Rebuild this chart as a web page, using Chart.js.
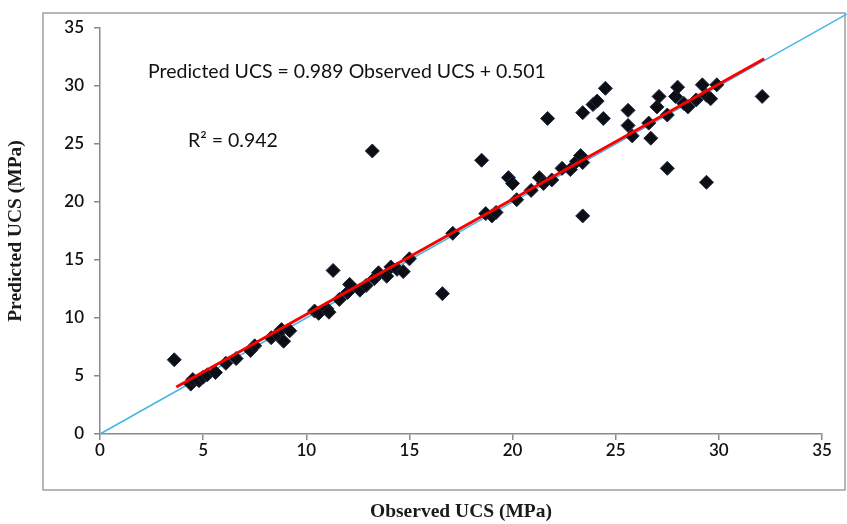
<!DOCTYPE html>
<html>
<head>
<meta charset="utf-8">
<script src="https://cdn.jsdelivr.net/npm/chart.js@4/dist/chart.umd.min.js"></script>
<style>
  html, body { margin: 0; padding: 0; background: #fff; }
  #wrap { width: 847px; height: 524px; }
</style>
</head>
<body>
<div id="wrap"><canvas id="c" width="847" height="524"></canvas></div>
<script>
// observed vs predicted UCS (MPa)
const observed = [
  3.6, 4.4, 4.5, 4.8, 5.0, 5.2, 5.6, 6.1, 6.6, 7.3, 7.5, 8.3, 8.6, 8.8, 8.9, 9.2,
  10.4, 10.6, 11.0, 11.1, 11.3, 11.6, 12.0, 12.1, 12.6, 12.9, 13.2, 13.3, 13.5, 13.9,
  14.1, 14.4, 14.7, 15.0, 16.6, 17.1, 18.5, 18.7, 19.0, 19.2, 19.8, 20.0, 20.2, 20.9,
  21.3, 21.5, 21.7, 21.9, 22.4, 22.8, 23.1, 23.3, 23.4, 23.4, 23.4, 23.9, 24.1, 24.4,
  24.5, 25.6, 25.6, 25.8, 26.6, 26.7, 27.0, 27.1, 27.5, 27.5, 27.9, 28.0, 28.3, 28.5,
  28.9, 29.2, 29.4, 29.4, 29.6, 29.9, 32.1
];
const predicted = [
  6.4, 4.3, 4.7, 4.6, 4.9, 5.1, 5.3, 6.1, 6.5, 7.2, 7.6, 8.3, 8.6, 9.0, 8.0, 8.9,
  10.6, 10.4, 10.8, 10.5, 14.1, 11.6, 12.2, 12.9, 12.4, 12.8, 24.4, 13.4, 13.9, 13.6,
  14.4, 14.2, 14.0, 15.1, 12.1, 17.3, 23.6, 19.0, 18.8, 19.1, 22.1, 21.6, 20.2, 21.0,
  22.1, 21.6, 27.2, 21.9, 22.9, 22.8, 23.5, 24.0, 23.4, 18.8, 27.7, 28.4, 28.7, 27.2,
  29.8, 27.9, 26.6, 25.7, 26.8, 25.5, 28.2, 29.1, 22.9, 27.5, 29.1, 29.9, 28.5, 28.2,
  28.8, 30.1, 29.2, 21.7, 28.9, 30.1, 29.1
];
// fitted line ends and 1:1 line ends
const fitX = [3.7, 32.2];
const fitY = [4.05, 32.35];
const oneToOneX = [0, 36.2];
const oneToOneY = [0, 36.2];

const tickValues = [0, 5, 10, 15, 20, 25, 30, 35];
const equationText = 'Predicted UCS = 0.989 Observed UCS + 0.501';
const r2Text = 'R\u00B2 = 0.942';

const pts = observed.map((x, i) => ({ x: x, y: predicted[i] }));
const fitLine = fitX.map((x, i) => ({ x: x, y: fitY[i] }));
const refLine = oneToOneX.map((x, i) => ({ x: x, y: oneToOneY[i] }));

const tickFont = { family: 'Lato, "Noto Sans", sans-serif', size: 17, weight: '600' };
const titleFont = { family: '"Liberation Serif", "DejaVu Serif", serif', size: 19.5, weight: 'bold' };

// outer frame + equation text
const decor = {
  id: 'decor',
  beforeDraw(chart) {
    const ctx = chart.ctx;
    ctx.save();
    ctx.fillStyle = '#fff';
    ctx.fillRect(0, 0, chart.width, chart.height);
    ctx.strokeStyle = '#a0a0a0';
    ctx.lineWidth = 1.5;
    ctx.strokeRect(43, 13, 802, 477);
    ctx.restore();
  },
  afterDraw(chart) {
    const ctx = chart.ctx;
    ctx.save();
    ctx.fillStyle = '#111';
    ctx.font = '19.5px Lato, "Noto Sans", sans-serif';
    ctx.textBaseline = 'middle';
    ctx.fillText(equationText, 148, 72);
    ctx.fillText(r2Text, 188, 141);
    ctx.restore();
  }
};

const axisCommon = {
  type: 'linear',
  min: 0,
  max: 35,
  afterBuildTicks(scale) {
    scale.ticks = tickValues.map(v => ({ value: v }));
  },
  grid: {
    display: true,
    drawOnChartArea: false,
    drawTicks: true,
    tickLength: 6,
    color: '#8a8a8a',
    lineWidth: 1.5
  },
  border: { display: true, color: '#8a8a8a', width: 1.5 }
};

new Chart(document.getElementById('c'), {
  type: 'scatter',
  data: {
    datasets: [
      {
        label: '1:1',
        type: 'line',
        data: refLine,
        borderColor: '#45b4e6',
        borderWidth: 1.5,
        pointRadius: 0,
        clip: false,
        order: 3
      },
      {
        label: 'data',
        data: pts,
        pointStyle: 'rectRot',
        pointRadius: 7,
        backgroundColor: '#0d0d14',
        borderColor: '#1d2a40',
        borderWidth: 1,
        order: 2
      },
      {
        label: 'fit',
        type: 'line',
        data: fitLine,
        borderColor: '#ff0000',
        borderWidth: 3,
        pointRadius: 0,
        order: 1
      }
    ]
  },
  options: {
    responsive: false,
    animation: false,
    layout: { padding: { left: 0, right: 25, top: 28, bottom: 0 } },
    plugins: { legend: { display: false }, tooltip: { enabled: false } },
    scales: {
      x: Object.assign({}, axisCommon, {
        position: 'bottom',
        ticks: { color: '#111', font: tickFont, padding: 0 },
        title: { display: true, text: 'Observed UCS (MPa)', color: '#1a1a1a', font: titleFont, padding: { top: 4, bottom: 0 } },
        afterFit(scale) { scale.height = 90; }
      }),
      y: Object.assign({}, axisCommon, {
        position: 'left',
        ticks: { color: '#111', font: tickFont, padding: 10 },
        title: { display: true, text: 'Predicted UCS (MPa)', color: '#1a1a1a', font: titleFont, padding: { top: 4, bottom: 4 } },
        afterFit(scale) { scale.width = 100; }
      })
    }
  },
  plugins: [decor]
});
</script>
</body>
</html>
